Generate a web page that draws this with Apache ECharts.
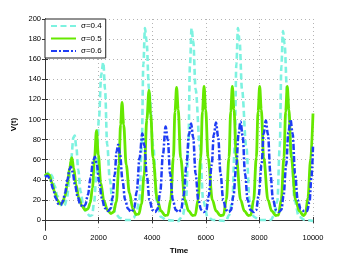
<!DOCTYPE html>
<html>
<head>
<meta charset="utf-8">
<script src="https://cdn.jsdelivr.net/npm/echarts@6/dist/echarts.min.js"></script>
<style>html,body{margin:0;padding:0;background:#fff}#c{width:346px;height:260px}</style>
</head>
<body>
<div id="c"></div>
<script>
var seriesNames = ['σ=0.4', 'σ=0.5', 'σ=0.6'];
var xTicks = [0, 2000, 4000, 6000, 8000, 10000];
var yTicks = [0, 20, 40, 60, 80, 100, 120, 140, 160, 180, 200];

var sigma04 = [[0,43],[80,46],[170,48],[260,44],[360,34],[460,24],[560,17],[660,13],[740,15],[820,22],[900,38],[980,62],[1060,82],[1110,84],[1170,72],[1240,50],[1330,28],[1430,14],[1550,7],[1680,4],[1760,5],[1830,17],[1920,45],[2010,100],[2100,145],[2175,157],[2240,130],[2320,75],[2420,40],[2520,17],[2640,6],[2800,2],[3000,0],[3200,0],[3300,2],[3400,6],[3520,19],[3610,73],[3670,155],[3730,191],[3790,178],[3880,130],[4040,73],[4165,19],[4330,3],[4530,0],[5000,-1],[5020,1],[5140,5],[5260,19],[5350,73],[5410,155],[5470,191],[5530,178],[5620,130],[5780,73],[5905,19],[6070,3],[6270,0],[6750,-1],[6870,5],[6990,19],[7080,73],[7140,155],[7200,191],[7260,178],[7350,130],[7510,73],[7635,19],[7800,3],[8000,0],[8430,0],[8550,5],[8670,19],[8760,73],[8820,153],[8880,188],[8940,175],[9030,128],[9190,72],[9315,19],[9480,3],[9700,0],[10000,-1]];

var sigma05 = [[0,44],[80,46],[160,45],[260,37],[360,28],[460,20],[560,16],[650,17],[740,23],[830,35],[920,52],[1000,62],[1070,52],[1160,35],[1260,22],[1380,14],[1500,10],[1600,11],[1690,17],[1770,32],[1850,62],[1920,89],[1990,65],[2080,37],[2200,19],[2330,10],[2460,6.5],[2560,8],[2660,18],[2760,55],[2820,95],[2875,117],[2935,95],[3030,55],[3150,27],[3280,11],[3400,5.5],[3500,6],[3600,16],[3700,45],[3800,100],[3880,129],[3945,105],[4030,62],[4190,20],[4330,9],[4480,4.5],[4580,5],[4690,20],[4790,62],[4850,108],[4910,132],[4970,110],[5060,62],[5220,20],[5360,9],[5510,4.5],[5605,5],[5710,20],[5810,62],[5875,108],[5935,133],[5995,110],[6085,62],[6245,20],[6385,9],[6540,4.5],[6660,5],[6765,20],[6865,62],[6930,108],[6990,133],[7050,110],[7140,62],[7300,20],[7440,9],[7590,4.5],[7680,5],[7785,20],[7885,62],[7950,108],[8010,133],[8070,110],[8160,62],[8320,20],[8460,9],[8610,4.5],[8710,5],[8815,20],[8915,62],[8980,108],[9040,133],[9100,110],[9190,62],[9350,20],[9490,9],[9640,4.5],[9720,6],[9810,22],[9910,60],[10000,106]];

var sigma06 = [[0,43],[100,44],[200,40],[300,31],[400,22],[500,16],[580,15],[660,18],[750,27],[840,40],[910,50],[960,53],[1030,48],[1120,35],[1220,23],[1320,15],[1420,13],[1500,15],[1600,25],[1700,42],[1790,58],[1860,63],[1930,56],[2020,38],[2120,22],[2230,12],[2350,9],[2440,11],[2520,22],[2600,45],[2670,68],[2730,75],[2800,65],[2890,40],[2990,20],[3100,11],[3220,8],[3330,12],[3420,28],[3530,62],[3630,86],[3710,74],[3800,44],[3900,20],[4010,10],[4110,8],[4200,11],[4300,28],[4400,65],[4500,93],[4580,80],[4670,46],[4770,20],[4880,10],[4980,8],[5080,10],[5170,24],[5280,55],[5370,85],[5450,96],[5530,82],[5620,46],[5720,20],[5830,10],[5930,8],[6020,10],[6110,24],[6220,55],[6300,85],[6380,97],[6460,83],[6550,46],[6650,20],[6760,10],[6860,8],[6940,10],[7030,24],[7140,55],[7220,85],[7295,98],[7375,84],[7465,46],[7560,20],[7670,10],[7780,8],[7880,10],[7970,24],[8080,55],[8160,86],[8240,99],[8320,85],[8410,46],[8510,20],[8620,10],[8720,8],[8820,10],[8900,24],[9000,55],[9080,87],[9160,100],[9240,86],[9330,46],[9430,20],[9540,11],[9660,9],[9780,9],[9870,18],[9940,42],[10000,73]];

var colors = ['#7DF2E0', '#66E800', '#1E3CF5'];
var FONT = '"Liberation Sans", Arial, sans-serif';

var chart = echarts.init(document.getElementById('c'), null, {renderer: 'canvas'});
var gridLine = {show: true, lineStyle: {color: '#b4b4b4', type: [1, 3], width: 1}};
var axisLine = {show: true, lineStyle: {color: '#333', width: 1}};
var plain = function (v) { return String(v); };
chart.setOption({
  animation: false,
  backgroundColor: '#fff',
  color: colors,
  grid: {left: 45, right: 33, top: 19, bottom: 29, containLabel: false},
  legend: {
    left: 45, top: 19, orient: 'vertical',
    backgroundColor: '#fff', borderColor: '#222', borderWidth: 1, borderRadius: 0,
    padding: [3, 4, 3, 5], itemWidth: 25, itemHeight: 8, itemGap: 4.5,
    itemStyle: {opacity: 0, color: 'rgba(0,0,0,0)', borderWidth: 0},
    textStyle: {fontFamily: FONT, fontSize: 8, color: '#000'},
    data: seriesNames
  },
  xAxis: [{
    type: 'value', min: 0, max: 10000, interval: 2000,
    name: 'Time', nameLocation: 'middle', nameGap: 11,
    nameTextStyle: {fontFamily: FONT, fontSize: 8, fontWeight: 'bold', color: '#000'},
    axisLine: axisLine,
    axisTick: {show: true, inside: true, length: 3, lineStyle: {color: '#333'}},
    axisLabel: {fontFamily: FONT, fontSize: 7.5, color: '#000', margin: 4, formatter: plain},
    splitLine: gridLine
  }, {
    type: 'value', min: 0, max: 10000, interval: 2000, position: 'top',
    axisLine: axisLine,
    axisTick: {show: true, inside: true, length: 3, lineStyle: {color: '#333'}},
    axisLabel: {show: false}, splitLine: {show: false}
  }],
  yAxis: [{
    type: 'value', min: -10, max: 200,
    name: 'V(t)', nameLocation: 'middle', nameGap: 14,
    nameTextStyle: {fontFamily: FONT, fontSize: 8, fontWeight: 'bold', color: '#000'},
    axisLine: axisLine,
    axisTick: {show: true, inside: true, length: 3, customValues: yTicks, lineStyle: {color: '#333'}},
    axisLabel: {fontFamily: FONT, fontSize: 7.5, color: '#000', margin: 4, customValues: yTicks, formatter: plain},
    splitLine: gridLine
  }, {
    type: 'value', min: -10, max: 200, position: 'right',
    axisLine: axisLine,
    axisTick: {show: true, inside: true, length: 3, customValues: yTicks, lineStyle: {color: '#333'}},
    axisLabel: {show: false}, splitLine: {show: false}
  }],
  series: [
    {name: seriesNames[0], type: 'line', data: sigma04, showSymbol: false, symbol: 'none',
     smooth: 0.35, smoothMonotone: 'x', z: 2,
     lineStyle: {color: colors[0], width: 2.6, type: [6, 3.5]}},
    {name: seriesNames[1], type: 'line', data: sigma05, showSymbol: false, symbol: 'none',
     smooth: 0.35, smoothMonotone: 'x', z: 3,
     lineStyle: {color: colors[1], width: 2.8}},
    {name: seriesNames[2], type: 'line', data: sigma06, showSymbol: false, symbol: 'none',
     smooth: 0.35, smoothMonotone: 'x', z: 4,
     lineStyle: {color: colors[2], width: 2.5, type: [6, 2, 2, 2]}}
  ]
});
</script>
</body>
</html>
